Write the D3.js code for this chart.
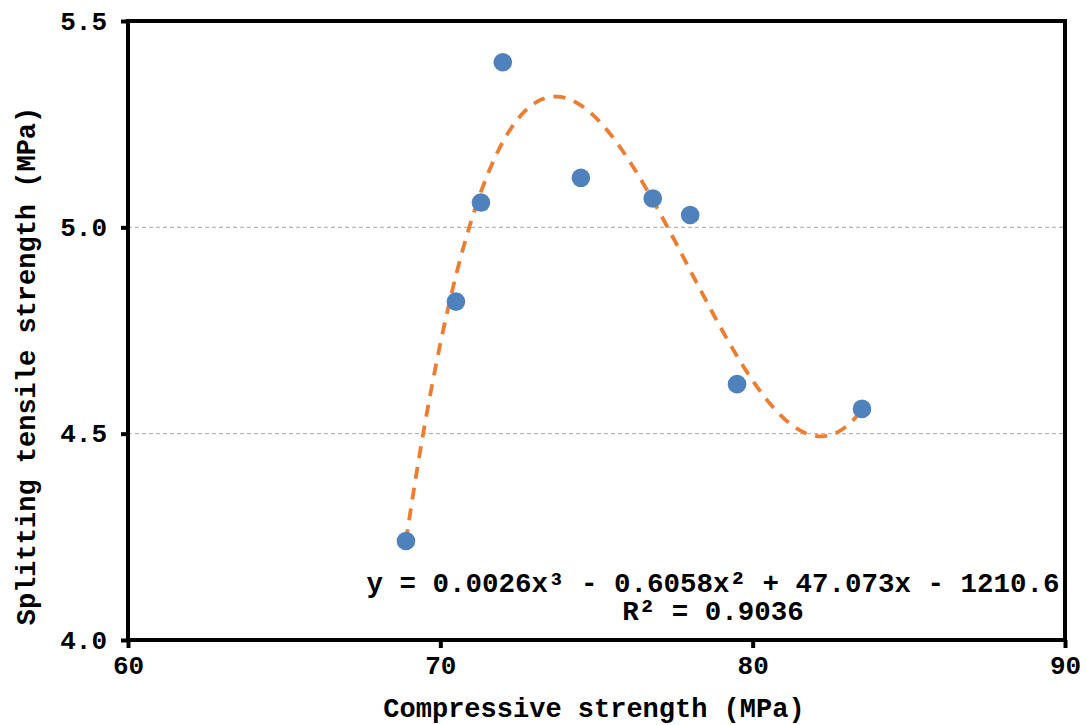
<!DOCTYPE html>
<html>
<head>
<meta charset="utf-8">
<script src="https://cdn.jsdelivr.net/npm/d3@7"></script>
<style>
 body { margin: 0; background: #fff; }
 text { font-family: "Liberation Mono", "DejaVu Sans Mono", monospace; fill: #000; }
</style>
</head>
<body>
<div id="chart"></div>
<script>
// data
const compressive = [68.9, 70.5, 71.3, 72.0, 74.5, 76.8, 78.0, 79.5, 83.5];
const splitting = [4.24, 4.82, 5.06, 5.40, 5.12, 5.07, 5.03, 4.62, 4.56];
const xTicks = [60, 70, 80, 90];
const yTicks = [4.0, 4.5, 5.0, 5.5];
const gridValues = [4.5, 5.0];
const equationLines = ["y = 0.0026x³ - 0.6058x² + 47.073x - 1210.6", "R² = 0.9036"];

const width = 1086;
const height = 725;
const margin = { top: 21, right: 21, bottom: 85, left: 128 };

const svg = d3
 .select("#chart")
 .append("svg")
 .attr("width", width)
 .attr("height", height);

const x = d3.scaleLinear().domain([60, 90]).range([margin.left, width - margin.right]);
const y = d3.scaleLinear().domain([4.0, 5.5]).range([height - margin.bottom, margin.top]);

// gridlines
svg
 .selectAll(".grid")
 .data(gridValues)
 .enter()
 .append("line")
 .attr("x1", x(60))
 .attr("x2", x(90))
 .attr("y1", (d) => y(d))
 .attr("y2", (d) => y(d))
 .attr("stroke", "#a6a6a6")
 .attr("stroke-width", 1)
 .attr("stroke-dasharray", "4,3");

// cubic least squares fit (same as excel trendline)
const xm = d3.mean(compressive);
function polyFit(xs, ys, deg) {
 const n = deg + 1;
 const A = [];
 for (let i = 0; i < n; i++) {
  A.push(new Array(n + 1).fill(0));
  for (let j = 0; j < n; j++) {
   A[i][j] = d3.sum(xs, (v) => Math.pow(v - xm, i + j));
  }
  A[i][n] = d3.sum(xs, (v, k) => ys[k] * Math.pow(v - xm, i));
 }
 for (let c = 0; c < n; c++) {
  let p = c;
  for (let r = c + 1; r < n; r++) if (Math.abs(A[r][c]) > Math.abs(A[p][c])) p = r;
  [A[c], A[p]] = [A[p], A[c]];
  for (let r = 0; r < n; r++) {
   if (r === c) continue;
   const f = A[r][c] / A[c][c];
   for (let k = c; k <= n; k++) A[r][k] -= f * A[c][k];
  }
 }
 return A.map((row, i) => row[n] / row[i]);
}
const coef = polyFit(compressive, splitting, 3);
const fitY = (v) => coef.reduce((s, c, i) => s + c * Math.pow(v - xm, i), 0);
const xs = d3.range(d3.min(compressive), d3.max(compressive) + 0.001, 0.05);

svg
 .append("path")
 .datum(xs)
 .attr("fill", "none")
 .attr("stroke", "#ed7d31")
 .attr("stroke-width", 3.8)
 .attr("stroke-dasharray", "12,9")
 .attr("d", d3.line().x((d) => x(d)).y((d) => y(fitY(d))));

// points
svg
 .selectAll(".dot")
 .data(compressive)
 .enter()
 .append("circle")
 .attr("cx", (d) => x(d))
 .attr("cy", (d, i) => y(splitting[i]))
 .attr("r", 9.3)
 .attr("fill", "#4f81bd");

// frame
svg
 .append("rect")
 .attr("x", x(60))
 .attr("y", y(5.5))
 .attr("width", x(90) - x(60))
 .attr("height", y(4.0) - y(5.5))
 .attr("fill", "none")
 .attr("stroke", "#000")
 .attr("stroke-width", 4);

// axes
const xAxis = svg
 .append("g")
 .attr("transform", `translate(0,${y(4.0)})`)
 .call(d3.axisBottom(x).tickValues(xTicks).tickSize(8).tickPadding(8).tickFormat(d3.format("d")));
const yAxis = svg
 .append("g")
 .attr("transform", `translate(${x(60)},0)`)
 .call(d3.axisLeft(y).tickValues(yTicks).tickSize(7).tickPadding(14).tickFormat(d3.format(".1f")));

[xAxis, yAxis].forEach((g) => {
 g.select(".domain").remove();
 g.selectAll(".tick line").attr("stroke", "#000").attr("stroke-width", 4);
 g.selectAll(".tick text")
  .attr("font-size", 26)
  .attr("font-weight", "bold")
  .attr("font-family", "Liberation Mono");
});

// axis titles
svg
 .append("text")
 .attr("x", 594)
 .attr("y", 717)
 .attr("text-anchor", "middle")
 .attr("font-size", 27)
 .attr("font-weight", "bold")
 .text("Compressive strength (MPa)");

svg
 .append("text")
 .attr("transform", "translate(35,366) rotate(-90)")
 .attr("text-anchor", "middle")
 .attr("font-size", 27)
 .attr("font-weight", "bold")
 .text("Splitting tensile strength (MPa)");

// trendline label
svg
 .selectAll(".eq")
 .data(equationLines)
 .enter()
 .append("text")
 .attr("x", 713)
 .attr("y", (d, i) => 592 + i * 28)
 .attr("text-anchor", "middle")
 .attr("font-size", 27.5)
 .attr("font-weight", "bold")
 .text((d) => d);
</script>
</body>
</html>
